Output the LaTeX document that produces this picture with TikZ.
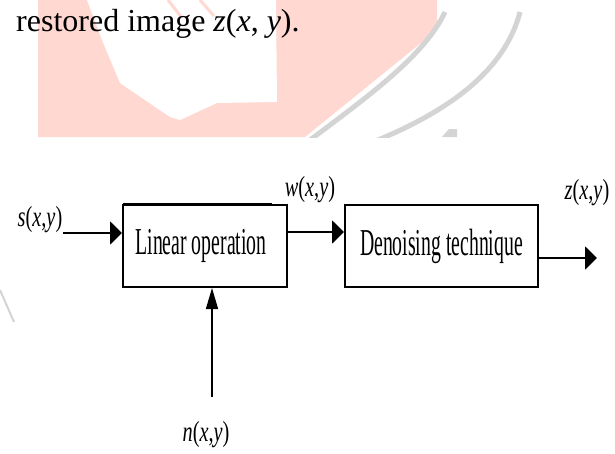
\documentclass[tikz,border=0pt]{standalone}
\usepackage{fontspec}
\setmainfont{Liberation Serif}
\usetikzlibrary{arrows.meta,calc}
\definecolor{wmpink}{HTML}{FFD8D1}
\definecolor{wmgrey}{HTML}{D4D4D4}
\tikzset{
  boxnode/.style={draw=black, line width=2pt, fill=white, inner sep=0pt, align=center},
  harrow/.style={line width=2pt, -{Triangle[length=12pt,width=23pt]}},
  varrow/.style={line width=1.5pt, -{Triangle[length=21pt,width=12pt]}},
  sig/.style={inner sep=0pt},
}
\newcommand{\boxtext}[1]{\scalebox{0.52}[1]{\fontsize{38}{40}\selectfont #1}}
\newcommand{\sigtext}[1]{\scalebox{0.7}[1]{\fontsize{29}{30}\selectfont #1}}
\begin{document}
\begin{tikzpicture}[x=1pt,y=-1pt]
\useasboundingbox (0,0) rectangle (615,453);
% faint watermark
\begin{scope}
  \clip (0,0) rectangle (615,137);
  \fill[wmpink] (38,0) -- (437,0) -- (437,30) -- (305,137) -- (38,137) -- cycle;
  \fill[white] (87,0) -- (102,40) -- (120,83) -- (170,117) -- (180,120) -- (217,103) -- (277,102) -- (276,0) -- cycle;
  \draw[wmpink, line width=3pt] (168,0) -- (182,18);
  \draw[wmpink, line width=3pt] (200,0) -- (214,16);
  \draw[wmgrey, line width=5pt] (445,12) .. controls (425,55) and (370,95) .. (310,140);
  \draw[wmgrey, line width=5pt] (520,12) .. controls (505,70) and (450,110) .. (378,140);
  \fill[wmgrey] (442,137) -- (449,129) -- (457,129) -- (457,137) -- cycle;
\end{scope}
\draw[wmgrey, line width=2pt] (0,290) -- (14,322);
% top text
\node[anchor=base west, inner sep=0pt] (title) at (16,31)
  {\fontsize{32}{38}\selectfont restored image \textit{z}(\textit{x}, \textit{y}).};
% blocks
\node[boxnode, minimum width=164pt, minimum height=82pt] (b1) at (205,246)
  {\raisebox{2pt}{\boxtext{Linear operation}}\hspace*{8pt}};
\node[boxnode, minimum width=193pt, minimum height=82pt] (b2) at (441.5,246)
  {\raisebox{-2pt}{\boxtext{Denoising technique}}};
\draw[line width=1pt] (123,203.5) -- (272,203.5);
% signal labels
\node[sig] (s) at (40,220) {\sigtext{\textit{s}(\textit{x},\textit{y})}};
\node[sig] (w) at (310,190) {\sigtext{\textit{w}(\textit{x},\textit{y})}};
\node[sig] (z) at (587,193) {\sigtext{\textit{z}(\textit{x},\textit{y})}};
\node[sig] (n) at (206,435) {\sigtext{\textit{n}(\textit{x},\textit{y})}};
% connectors
\coordinate (sin) at (63,233);
\coordinate (zout) at (597,258);
\coordinate (nin) at (212,397);
\draw[harrow] (sin) -- (sin -| b1.west);
\draw[harrow] ([yshift=14pt]b1.east) -- ([yshift=14pt]b2.west);
\draw[harrow] ([yshift=-12pt]b2.east) -- (zout);
\draw[varrow] (nin) -- (nin |- b1.south);
\end{tikzpicture}
\end{document}
